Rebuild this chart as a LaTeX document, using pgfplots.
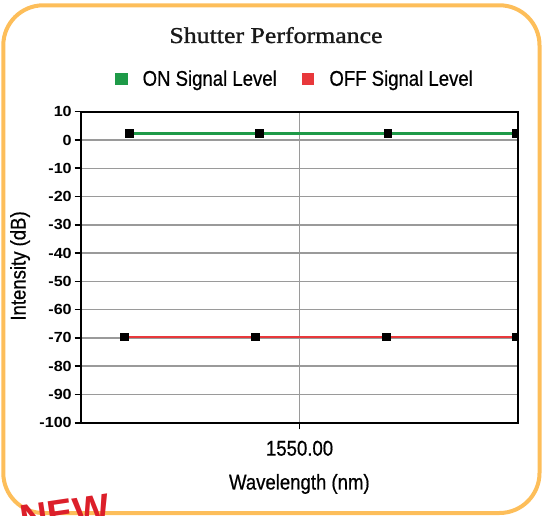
\documentclass[border=0pt]{standalone}
\usepackage{pgfplots}
\pgfplotsset{compat=1.18}
\usepackage{fontspec}
\setmainfont{Liberation Sans}
\newfontfamily\cond{Liberation Sans}[FakeStretch=0.87, FakeBold=0.6]
\newfontfamily\tickfont{Liberation Sans}[FakeStretch=1.1]
\newfontfamily\titlefont{Liberation Serif}[FakeStretch=1.14, FakeBold=1.2]
\definecolor{frameorange}{HTML}{FDBE5A}
\definecolor{ongreen}{HTML}{1E9A48}
\definecolor{offred}{HTML}{E8383B}
\definecolor{gridgray}{HTML}{9A9A9A}
\definecolor{newred}{HTML}{DC1F2A}
\begin{document}
\begin{tikzpicture}
\begin{scope}[x=0.75pt,y=0.75pt]
\useasboundingbox (0,0) rectangle (543,515);
\draw[frameorange, line width=3pt, rounded corners=30pt] (3.3,2) rectangle (539.5,509.7);
\node[font=\titlefont\fontsize{17}{18}\selectfont, anchor=base, text=black!90] at (276,472) {Shutter Performance};
\end{scope}
\begin{axis}[
  at={(60.975pt,69.225pt)}, anchor=south west,
  scale only axis, width=327.4pt, height=233.25pt,
  xmin=1549.6, xmax=1550.4, ymin=-100, ymax=10,
  ytick={-100,-90,-80,-70,-60,-50,-40,-30,-20,-10,0,10},
  yticklabels={-100,-90,-80,-70,-60,-50,-40,-30,-20,-10,0,10},
  xtick={1550}, xticklabels={1550.00},
  tick pos=left, tick align=outside,
  major tick length=5pt,
  tick style={black, line width=1.2pt},
  axis line style={black, line width=1.7pt},
  ymajorgrids, xmajorgrids,
  grid style={gridgray, line width=1.1pt},
  yticklabel style={font=\tickfont\bfseries\fontsize{11}{11}\selectfont, inner xsep=2pt},
  xticklabel style={font=\cond\fontsize{16}{16}\selectfont, yshift=-5pt},
  xlabel={Wavelength (nm)},
  ylabel={Intensity (dB)},
  xlabel style={font=\cond\fontsize{16}{16}\selectfont, at={(axis description cs:0.4995,-0.197)}, anchor=center},
  ylabel style={font=\cond\fontsize{16}{16}\selectfont, at={(axis description cs:-0.1404,0.504)}, anchor=center},
  clip marker paths=true,
  legend columns=2,
  legend cell align=left,
  legend style={draw=none, fill=none, font=\cond\fontsize{16}{16}\selectfont,
    at={(axis description cs:0.4905,1.105)}, anchor=center,
    /tikz/every even column/.append style={column sep=17pt}},
]
\addplot[ongreen, line width=2pt, mark=square*, mark size=2.3pt,
  mark options={draw=black, fill=black, solid},
  legend image code/.code={\fill[ongreen] (0pt,-3.6pt) rectangle (7.2pt,3.6pt); \path (16.5pt,0pt);}]
  coordinates {(1549.689,2.2) (1549.926,2.2) (1550.162,2.2) (1550.398,2.2)};
\addlegendentry{ON Signal Level}
\addplot[offred, line width=2pt, mark=square*, mark size=2.3pt,
  mark options={draw=black, fill=black, solid},
  legend image code/.code={\fill[offred] (0pt,-3.6pt) rectangle (7.2pt,3.6pt); \path (16.5pt,0pt);}]
  coordinates {(1549.679,-69.7) (1549.919,-69.7) (1550.159,-69.7) (1550.398,-69.7)};
\addlegendentry{OFF Signal Level}
\end{axis}
\begin{scope}[x=0.75pt,y=0.75pt]
\clip (0,0) rectangle (543,515);
\node[rotate=8.5, anchor=base west, text=newred, font=\fontsize{29}{29}\selectfont\bfseries, inner sep=0pt] at (22,-18) {NEW};
\end{scope}
\end{tikzpicture}
\end{document}
